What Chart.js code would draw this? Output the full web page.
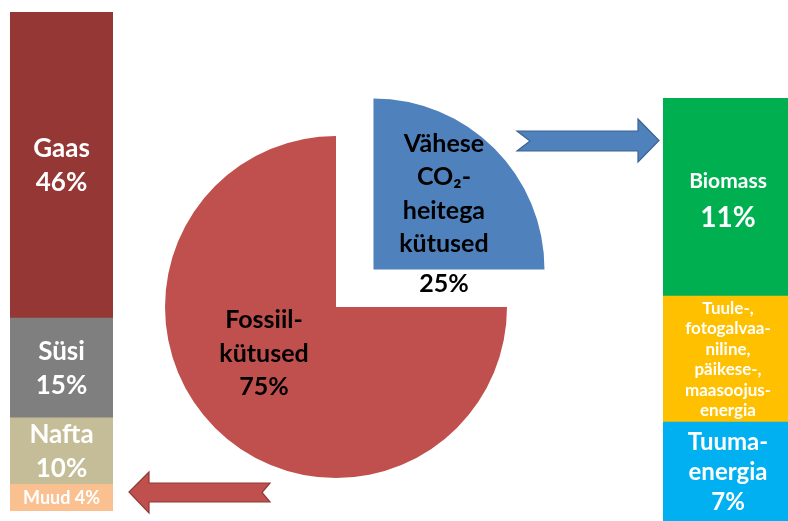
<!DOCTYPE html>
<html lang="et">
<head>
<meta charset="utf-8">
<title>Kütuste jaotus</title>
<script src="https://cdn.jsdelivr.net/npm/chart.js@4.4.1/dist/chart.umd.min.js"></script>
<style>
  html, body { margin: 0; padding: 0; width: 788px; height: 521px; overflow: hidden; background: #ffffff; }
  #stage { position: relative; width: 788px; height: 521px; overflow: hidden; }
  #stage canvas, #stage svg { position: absolute; }
</style>
</head>
<body>
<div id="stage">
  <canvas id="fossilBar" width="120" height="521" style="left:0;top:0"></canvas>
  <canvas id="mixPie" width="500" height="500" style="left:86px;top:57px"></canvas>
  <canvas id="lowCarbonBar" width="130" height="521" style="left:663px;top:0"></canvas>
  <svg width="788" height="521" style="left:0;top:0" aria-hidden="true">
    <!-- arrow from the low-carbon slice to its breakdown -->
    <polygon points="517,131 638,131 638,119 659,140.5 638,162 638,151 517,151 530,141"
             fill="#4F81BD" stroke="#3A6391" stroke-width="1.2" stroke-linejoin="miter"/>
    <!-- arrow from the fossil slice to its breakdown -->
    <polygon points="129,492 149,472 149,483 270,483 262,492.5 270,502 149,502 149,513"
             fill="#C0504D" stroke="#8E3A38" stroke-width="1.2" stroke-linejoin="miter"/>
  </svg>
</div>

<script>
// Fossil fuels, split by type (% of total energy use)
const fossilNames  = ['Gaas', 'Süsi', 'Nafta', 'Muud'];
const fossilShares = [46, 15, 10, 4];

// Low-CO2 fuels, split by type (% of total energy use)
const lowCarbonNames  = ['Biomass', 'Tuule-, fotogalvaaniline, päikese-, maasoojusenergia', 'Tuumaenergia'];
const lowCarbonShares = [11, 7, 7];
const lowCarbonLines  = [['Biomass'], ['Tuule-,', 'fotogalvaa-', 'niline,', 'päikese-,', 'maasoojus-', 'energia'], ['Tuuma-', 'energia']];
const lowCarbonShowShare = [true, false, true];

// Overall mix
const mixNames  = ['Vähese CO₂-heitega kütused', 'Fossiilkütused'];
const mixShares = [25, 75];
const mixLines  = [['Vähese', 'CO₂-', 'heitega', 'kütused'], ['Fossiil-', 'kütused']];

const fossilColors    = ['#953735', '#7F7F7F', '#C4BD97', '#FAC090'];
const lowCarbonColors = ['#00B050', '#FFC000', '#00B0F0'];
const mixColors       = ['#4F81BD', '#C0504D'];

const FONT = 'Lato, "Open Sans", "DejaVu Sans", sans-serif';
const CAP = 0.72; // cap height relative to font size

// Writes rows of text centred on (cx, cy); each row is {text, size, gapBefore}
function drawRows(ctx, rows, cx, cy, step, color) {
  const pos = [];
  let p = 0;
  rows.forEach((r, i) => {
    if (i > 0) p += step + (r.gapBefore || 0);
    pos.push(p);
  });
  const last = pos[pos.length - 1];
  const capHalf = CAP * rows[rows.length - 1].size / 2;
  ctx.save();
  ctx.fillStyle = color;
  ctx.textAlign = 'center';
  ctx.textBaseline = 'alphabetic';
  rows.forEach((r, i) => {
    ctx.font = 'bold ' + r.size + 'px ' + FONT;
    ctx.fillText(r.text, cx, cy + pos[i] - last / 2 + capHalf);
  });
  ctx.restore();
}

// Labels inside each stacked segment, centred on the visible part of the segment
const segmentLabels = {
  id: 'segmentLabels',
  afterDatasetsDraw(chart) {
    const { ctx, chartArea } = chart;
    chart.data.datasets.forEach((ds, i) => {
      const el = chart.getDatasetMeta(i).data[0];
      if (!el || !ds.labelRows) return;
      const { x, y, base } = el.getProps(['x', 'y', 'base'], true);
      const top = Math.max(Math.min(y, base), chartArea.top);
      const bottom = Math.min(Math.max(y, base), chartArea.bottom);
      const h = bottom - top;
      const cy = (top + bottom) / 2;
      const rows = ds.labelRows;
      const maxSize = Math.max(...rows.map(r => r.size));
      const blockH = (rows.length - 1) * ds.labelStep + CAP * maxSize;
      if (blockH > h - 4) {
        // not enough height: put the whole label on one line
        const size = Math.min(rows[0].size, Math.floor(h * 0.7));
        drawRows(ctx, [{ text: rows.map(r => r.text).join(' '), size }], x, cy, 0, '#ffffff');
      } else {
        drawRows(ctx, rows, x, cy, ds.labelStep, '#ffffff');
      }
    });
  }
};

// Labels for the two pie slices
const sliceLabels = {
  id: 'sliceLabels',
  afterDatasetsDraw(chart, args, opts) {
    const { ctx } = chart;
    chart.getDatasetMeta(0).data.forEach((arc, i) => {
      const { x, y, startAngle, endAngle, outerRadius } =
        arc.getProps(['x', 'y', 'startAngle', 'endAngle', 'outerRadius'], true);
      const mid = (startAngle + endAngle) / 2;
      // ArcElement shifts a pulled-out slice by a quarter of its offset
      const shift = (arc.options.offset || 0) / 4;
      const ox = x + Math.cos(mid) * shift;
      const oy = y + Math.sin(mid) * shift;
      const place = opts.placement[i];
      const a = mid + place.turn * Math.PI / 180;
      const r = outerRadius * place.reach;
      const rows = mixLines[i].map(t => ({ text: t, size: opts.size }));
      rows.push({ text: mixShares[i] + '%', size: opts.size, gapBefore: place.shareGap });
      drawRows(ctx, rows, ox + Math.cos(a) * r, oy + Math.sin(a) * r, opts.step, '#000000');
    });
  }
};

const barOptions = (padding, yMin, yMax) => ({
  responsive: false,
  animation: false,
  events: [],
  layout: { padding },
  plugins: { legend: { display: false }, tooltip: { enabled: false } },
  scales: {
    x: { display: false, stacked: true },
    y: { display: false, stacked: true, min: yMin, max: yMax }
  }
});

// Left column: fossil fuels (bottom segment first)
const fossilOrder = [3, 2, 1, 0];
new Chart(document.getElementById('fossilBar'), {
  type: 'bar',
  data: {
    labels: ['Fossiilkütused'],
    datasets: fossilOrder.map(k => ({
      label: fossilNames[k],
      data: [fossilShares[k]],
      backgroundColor: fossilColors[k],
      borderWidth: 0,
      barPercentage: 1,
      categoryPercentage: 1,
      labelStep: 34,
      labelRows: [{ text: fossilNames[k], size: 26 }, { text: fossilShares[k] + '%', size: 26 }]
    }))
  },
  options: barOptions({ left: 10, right: 7, top: 12, bottom: 10 }, 0, 75),
  plugins: [segmentLabels]
});

// Right column: low-CO2 fuels, running off the bottom edge
const lowOrder = [2, 1, 0];
const lowFonts = [
  { name: 21, share: 28, step: 39 },
  { name: 17, share: 17, step: 20.5 },
  { name: 24, share: 24, step: 30 }
];
new Chart(document.getElementById('lowCarbonBar'), {
  type: 'bar',
  data: {
    labels: ['Vähese CO₂-heitega kütused'],
    datasets: lowOrder.map(k => {
      const rows = lowCarbonLines[k].map(t => ({ text: t, size: lowFonts[k].name }));
      if (lowCarbonShowShare[k]) rows.push({ text: lowCarbonShares[k] + '%', size: lowFonts[k].share });
      return {
        label: lowCarbonNames[k],
        data: [lowCarbonShares[k]],
        backgroundColor: lowCarbonColors[k],
        borderWidth: 0,
        barPercentage: 1,
        categoryPercentage: 1,
        labelStep: lowFonts[k].step,
        labelRows: rows
      };
    })
  },
  options: barOptions({ left: 0, right: 0, top: 98, bottom: 0 }, 1.5, 25),
  plugins: [segmentLabels]
});

// Centre: overall mix, low-CO2 slice pulled out (~53 px along its bisector)
new Chart(document.getElementById('mixPie'), {
  type: 'pie',
  data: {
    labels: mixNames,
    datasets: [{
      data: mixShares,
      backgroundColor: mixColors,
      borderWidth: 0,
      offset: [212, 0]
    }]
  },
  options: {
    responsive: false,
    animation: false,
    events: [],
    radius: 171,
    plugins: {
      legend: { display: false },
      tooltip: { enabled: false },
      sliceLabels: {
        size: 25,
        step: 33.4,
        placement: [
          { turn: 6.3, reach: 0.528, shareGap: 7 },
          { turn: 12.7, reach: 0.498, shareGap: 0 }
        ]
      }
    }
  },
  plugins: [sliceLabels]
});
</script>
</body>
</html>
